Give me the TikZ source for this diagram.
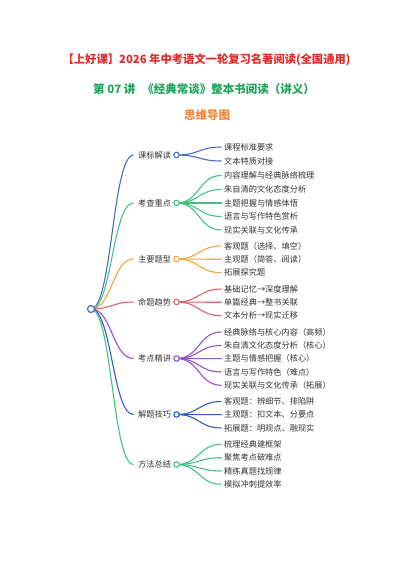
\documentclass[tikz,border=0pt]{standalone}
\usepackage{fontspec}
\newfontfamily\cjk{Noto Sans CJK SC}
\usetikzlibrary{backgrounds}
\definecolor{tred}{HTML}{E42A2A}
\definecolor{tgreen}{HTML}{1FA35A}
\definecolor{torange}{HTML}{F0883A}
\definecolor{cblueA}{HTML}{4A6CC4}
\definecolor{cgreen}{HTML}{45C083}
\definecolor{corange}{HTML}{EFA83A}
\definecolor{cred}{HTML}{D9646C}
\definecolor{cpurple}{HTML}{9156CF}
\definecolor{cblueB}{HTML}{2F5EC0}
\definecolor{txt}{HTML}{333333}
\tikzset{
  leaf/.style={anchor=west, inner xsep=2.5bp, inner ysep=1bp, text=txt,
    font=\cjk\fontsize{8.2bp}{10bp}\selectfont},
  branch/.style={anchor=west, inner xsep=4.5bp, inner ysep=1bp, text=txt,
    font=\cjk\fontsize{8.2bp}{10bp}\selectfont},
  dot/.style={circle, draw=#1, fill=white, inner sep=0pt, minimum size=5.5bp, line width=1.1bp},
  rootdot/.style={circle, draw=#1, fill=white, inner sep=0pt, minimum size=7bp, line width=1.2bp},
  link/.style={line width=1.1bp, draw=#1},
  ttl/.style={font=\cjk\bfseries\fontsize{#1}{#1}\selectfont, inner sep=0pt}
}
\newcommand{\rlink}[2]{\draw[link=#1] (root.center) .. controls +(21,0) and +(-21,0) .. (#2.west);}
\newcommand{\llink}[3]{\draw[link=#1] (#2.center) .. controls +(23,0) and +(-23,0) .. (#3.west);}
\begin{document}
\begin{tikzpicture}[x=1bp,y=-1bp]
\useasboundingbox (0,0) rectangle (400,566);
% titles
\node[ttl=11.3bp, text=tred] (t1) at (206.5,59.5) {【上好课】2026 年中考语文一轮复习名著阅读(全国通用)};
\node[ttl=11.5bp, text=tgreen] (t2) at (204,89.5) {第 07 讲\hspace{0.6em}《经典常谈》整本书阅读（讲义）};
\node[ttl=11.5bp, text=torange] (t3) at (207,115) {思维导图};
% root
\node[rootdot=cblueA] (root) at (91,309) {};
% branches
\node[branch] (b1) at (133.5,155) {课标解读};
\node[branch] (b2) at (133.5,203) {考查重点};
\node[branch] (b3) at (133.5,259) {主要题型};
\node[branch] (b4) at (133.5,302) {命题趋势};
\node[branch] (b5) at (133.5,358.5) {考点精讲};
\node[branch] (b6) at (133.5,414.5) {解题技巧};
\node[branch] (b7) at (133.5,464.5) {方法总结};
\node[dot=cblueA] (c1) at (176.5,155) {};
\node[dot=cgreen] (c2) at (176.5,203) {};
\node[dot=corange] (c3) at (176.5,259) {};
\node[dot=cred] (c4) at (176.5,302) {};
\node[dot=cpurple] (c5) at (176.5,358.5) {};
\node[dot=cblueB] (c6) at (176.5,414.5) {};
\node[dot=cgreen] (c7) at (176.5,464.5) {};
% leaves
\node[leaf] (l11) at (221.5,147) {课程标准要求};
\node[leaf] (l12) at (221.5,161) {文本特质对接};
\node[leaf] (l21) at (221.5,175.5) {内容理解与经典脉络梳理};
\node[leaf] (l22) at (221.5,189.5) {朱自清的文化态度分析};
\node[leaf] (l23) at (221.5,203) {主题把握与情感体悟};
\node[leaf] (l24) at (221.5,216.5) {语言与写作特色赏析};
\node[leaf] (l25) at (221.5,230) {现实关联与文化传承};
\node[leaf] (l31) at (221.5,246) {客观题（选择、填空）};
\node[leaf] (l32) at (221.5,259.3) {主观题（简答、阅读）};
\node[leaf] (l33) at (221.5,272.7) {拓展探究题};
\node[leaf] (l41) at (221.5,289) {基础记忆→深度理解};
\node[leaf] (l42) at (221.5,302.3) {单篇经典→整书关联};
\node[leaf] (l43) at (221.5,315.7) {文本分析→现实迁移};
\node[leaf] (l51) at (221.5,332) {经典脉络与核心内容（高频）};
\node[leaf] (l52) at (221.5,345.5) {朱自清文化态度分析（核心）};
\node[leaf] (l53) at (221.5,358.7) {主题与情感把握（核心）};
\node[leaf] (l54) at (221.5,372) {语言与写作特色（难点）};
\node[leaf] (l55) at (221.5,385.3) {现实关联与文化传承（拓展）};
\node[leaf] (l61) at (221.5,401.5) {客观题：辨细节、排陷阱};
\node[leaf] (l62) at (221.5,414.7) {主观题：扣文本、分要点};
\node[leaf] (l63) at (221.5,428) {拓展题：明观点、融现实};
\node[leaf] (l71) at (221.5,444.3) {梳理经典建框架};
\node[leaf] (l72) at (221.5,457.7) {聚焦考点破难点};
\node[leaf] (l73) at (221.5,471) {精练真题找规律};
\node[leaf] (l74) at (221.5,484.3) {模拟冲刺提效率};
\begin{scope}[on background layer]
\rlink{cblueA}{b1}
\rlink{cgreen}{b2}
\rlink{corange}{b3}
\rlink{cred}{b4}
\rlink{cpurple}{b5}
\rlink{cblueB}{b6}
\rlink{cgreen}{b7}
\llink{cblueA}{c1}{l11}\llink{cblueA}{c1}{l12}
\llink{cgreen}{c2}{l21}\llink{cgreen}{c2}{l22}\llink{cgreen}{c2}{l23}\llink{cgreen}{c2}{l24}\llink{cgreen}{c2}{l25}
\llink{corange}{c3}{l31}\llink{corange}{c3}{l32}\llink{corange}{c3}{l33}
\llink{cred}{c4}{l41}\llink{cred}{c4}{l42}\llink{cred}{c4}{l43}
\llink{cpurple}{c5}{l51}\llink{cpurple}{c5}{l52}\llink{cpurple}{c5}{l53}\llink{cpurple}{c5}{l54}\llink{cpurple}{c5}{l55}
\llink{cblueB}{c6}{l61}\llink{cblueB}{c6}{l62}\llink{cblueB}{c6}{l63}
\llink{cgreen}{c7}{l71}\llink{cgreen}{c7}{l72}\llink{cgreen}{c7}{l73}\llink{cgreen}{c7}{l74}
\end{scope}
\end{tikzpicture}
\end{document}
